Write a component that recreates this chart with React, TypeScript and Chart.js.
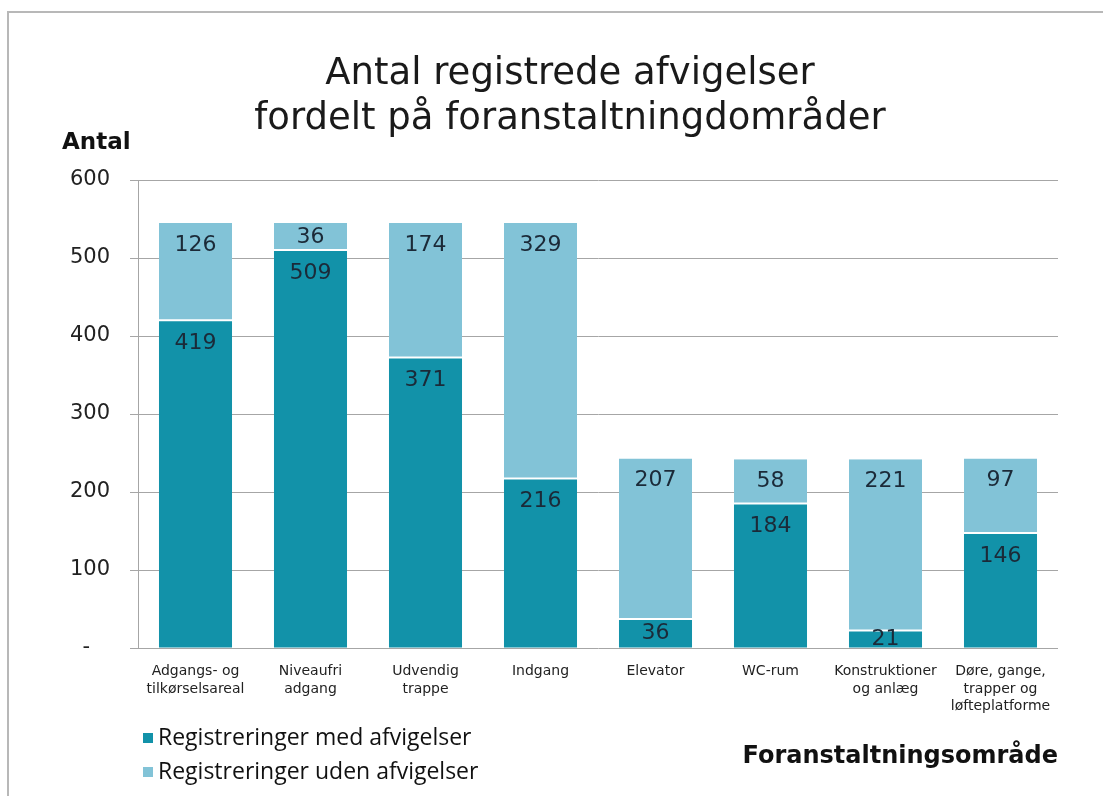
import React, { useEffect, useRef } from "react";
import { Chart, registerables } from "chart.js";

Chart.register(...registerables);

const categories: string[][] = [
  ["Adgangs- og", "tilkørselsareal"],
  ["Niveaufri", "adgang"],
  ["Udvendig", "trappe"],
  ["Indgang"],
  ["Elevator"],
  ["WC-rum"],
  ["Konstruktioner", "og anlæg"],
  ["Døre, gange,", "trapper og", "løfteplatforme"],
];
const medAfvigelser = [419, 509, 371, 216, 36, 184, 21, 146];
const udenAfvigelser = [126, 36, 174, 329, 207, 58, 221, 97];
const seriesNames = ["Registreringer med afvigelser", "Registreringer uden afvigelser"];
const titleLines = ["Antal registrede afvigelser", "fordelt på foranstaltningdområder"];
const yAxisTitle = "Antal";
const xAxisTitle = "Foranstaltningsområde";
const yTicks = [0, 100, 200, 300, 400, 500, 600];

const DARK = "#1292a9";
const LIGHT = "#82c3d7";
const FONT = "'DejaVu Sans', Verdana, sans-serif";

const decorPlugin = {
  id: "decor",
  afterDraw(chart: any) {
    const ctx = chart.ctx as CanvasRenderingContext2D;
    ctx.save();
    // frame
    ctx.strokeStyle = "#b8b8b8";
    ctx.lineWidth = 2;
    ctx.beginPath();
    ctx.moveTo(1103, 12);
    ctx.lineTo(8, 12);
    ctx.lineTo(8, 796);
    ctx.stroke();

    // title
    ctx.fillStyle = "#1a1a1a";
    ctx.font = `37px ${FONT}`;
    ctx.textAlign = "center";
    ctx.textBaseline = "middle";
    ctx.fillText(titleLines[0], 570, 74);
    ctx.fillText(titleLines[1], 570, 119);

    // y axis title
    ctx.font = `bold 23px ${FONT}`;
    ctx.textAlign = "left";
    ctx.fillStyle = "#111";
    ctx.fillText(yAxisTitle, 62, 143);

    // data labels
    ctx.font = `22px ${FONT}`;
    ctx.fillStyle = "#1b2a38";
    ctx.textAlign = "center";
    chart.data.datasets.forEach((ds: any, di: number) => {
      const meta = chart.getDatasetMeta(di);
      meta.data.forEach((bar: any, i: number) => {
        const top = Math.min(bar.y, bar.base);
        const h = Math.abs(bar.base - bar.y);
        const y = top + Math.min(22, Math.max(h / 2, 4));
        ctx.fillText(String(ds.data[i]), bar.x, y);
      });
    });

    // legend
    ctx.font = `23px 'Open Sans', sans-serif`;
    ctx.textAlign = "left";
    ctx.textBaseline = "middle";
    const rows = [738, 772];
    chart.data.datasets.forEach((ds: any, di: number) => {
      ctx.fillStyle = ds.backgroundColor;
      ctx.fillRect(143, rows[di] - 5, 10, 10);
      ctx.fillStyle = "#111";
      ctx.fillText(seriesNames[di], 158, rows[di]);
    });

    // x axis title
    ctx.font = `bold 24px ${FONT}`;
    ctx.textAlign = "right";
    ctx.fillStyle = "#111";
    ctx.fillText(xAxisTitle, 1058, 757);
    ctx.restore();
  },
};

export default function App() {
  const ref = useRef<HTMLCanvasElement | null>(null);
  useEffect(() => {
    if (!ref.current) return;
    const chart = new Chart(ref.current, {
      type: "bar",
      data: {
        labels: categories,
        datasets: [
          {
            label: seriesNames[0],
            data: medAfvigelser,
            backgroundColor: DARK,
            barPercentage: 0.635,
            categoryPercentage: 1,
          },
          {
            label: seriesNames[1],
            data: udenAfvigelser,
            backgroundColor: LIGHT,
            borderColor: "#ffffff",
            borderWidth: { bottom: 2, top: 0, left: 0, right: 0 },
            borderSkipped: false,
            barPercentage: 0.635,
            categoryPercentage: 1,
          },
        ],
      },
      options: {
        responsive: false,
        animation: false,
        layout: { padding: { top: 180, right: 45, left: 0, bottom: 0 } },
        plugins: {
          legend: { display: false },
          title: { display: false },
          tooltip: { enabled: false },
        },
        scales: {
          x: {
            stacked: true,
            grid: { display: false, drawTicks: false },
            border: { display: false },
            ticks: {
              color: "#222",
              font: { family: FONT, size: 14, lineHeight: 1.25 },
              padding: 15,
              maxRotation: 0,
              autoSkip: false,
            },
            afterFit(scale: any) {
              scale.height = 148;
            },
          },
          y: {
            stacked: true,
            min: 0,
            max: 600,
            afterBuildTicks(scale: any) {
              scale.ticks = yTicks.map((v) => ({ value: v }));
            },
            grid: { color: "#a6a6a6", lineWidth: 1, tickLength: 8 },
            border: { display: true, color: "#a6a6a6" },
            ticks: {
              color: "#222",
              font: { family: FONT, size: 21 },
              padding: 20,
              callback: (v: any) => (Number(v) === 0 ? "-   " : String(v)),
            },
            afterFit(scale: any) {
              scale.width = 138;
            },
          },
        },
      },
      plugins: [decorPlugin],
    });
    return () => chart.destroy();
  }, []);
  return (
    <div style={{ position: "fixed", left: 0, top: 0, width: 1103, height: 796, background: "#fff" }}>
      <canvas ref={ref} width={1103} height={796} style={{ display: "block" }} />
    </div>
  );
}
